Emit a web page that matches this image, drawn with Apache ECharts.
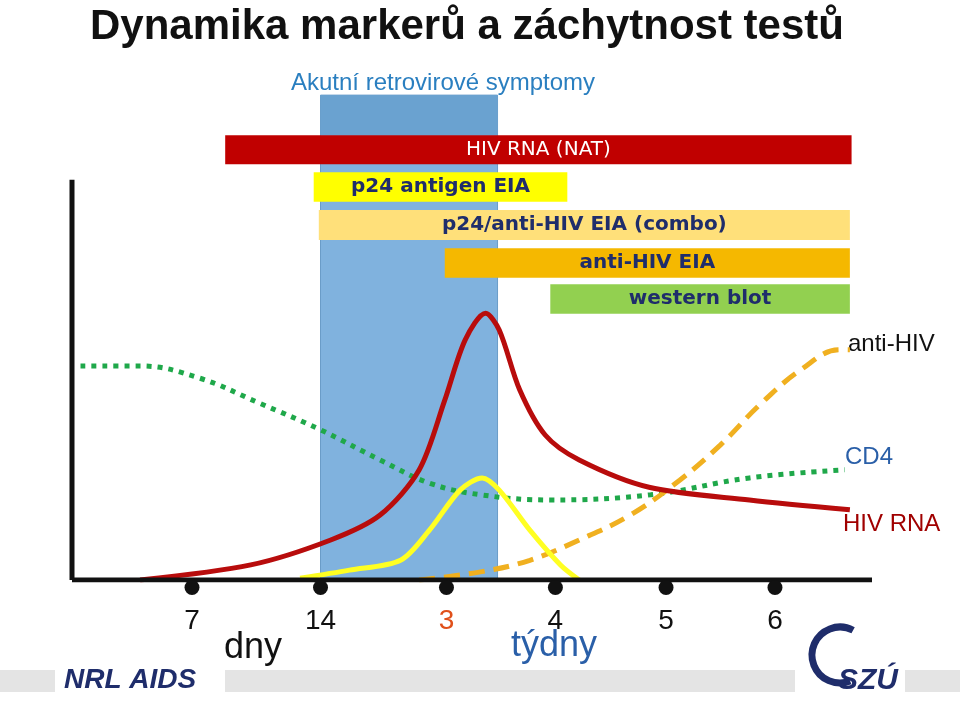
<!DOCTYPE html><html><head><meta charset="utf-8">
<script src="https://cdn.jsdelivr.net/npm/echarts@6/dist/echarts.min.js"></script>
<style>html,body{margin:0;background:#fff}#c{width:960px;height:714px}</style></head><body><div id="c"></div>
<script>
// x: days since infection, y: relative level (0..100)
const hivRna=[[4.0,0],[10.5,2.6],[15.2,6.9],[18.1,11.2],[20.4,19.0],[21.9,31.0],[23.1,41.4],[24.3,46.0],[25.1,43.1],[26.3,32.8],[27.8,25.0],[29.8,20.7],[33.9,16.0],[39.8,13.8],[45.7,12.1]];
const p24=[[13.4,0.3],[16.3,1.7],[19.3,3.4],[21.0,8.6],[22.8,15.5],[24.1,17.6],[25.1,15.5],[26.9,8.6],[28.7,2.6],[29.8,0]];
const cd4=[[0.5,36.9],[4.0,36.9],[7.5,34.8],[11.0,30.5],[14.6,25.9],[18.1,20.7],[21.0,16.7],[24.0,14.7],[28.1,13.8],[34.0,14.7],[39.8,17.6],[45.4,19.0]];
const antiHiv=[[20.4,0],[24.0,1.4],[26.9,3.4],[29.8,6.9],[32.8,11.2],[35.7,17.2],[38.1,23.3],[40.4,30.2],[42.8,36.2],[45.1,39.7],[45.7,39.7]];
const tickDays=[7.05,14.6,22.0,28.4,34.9,41.3];
const tickLabels=['7','14','3','4','5','6'];
const tickColors=['#111','#111','#e0501a','#111','#111','#111'];
// test windows: [name, start, end, yTop, yBottom]
const tests=[['HIV RNA (NAT)',9.0,45.8,76.7,71.7],['p24 antigen EIA',14.2,29.1,70.3,65.2],['p24/anti-HIV EIA (combo)',14.5,45.7,63.8,58.6],['anti-HIV EIA',21.9,45.7,57.2,52.1],['western blot',28.1,45.7,51.0,45.9]];
const testFill=['#c00000','#ffff00','#ffe07a','#f5b800','#92d050'];
const testText=['#fff','#1f2d6b','#1f2d6b','#1f2d6b','#1f2d6b'];
const acute=[14.6,25.0,83.6,0];

const chart=echarts.init(document.getElementById('c'));
chart.setOption({
 animation:false,
 grid:{left:72,right:88,top:0,bottom:134},
 xAxis:{type:'value',min:0,max:47,show:false},
 yAxis:{type:'value',min:0,max:100,show:false},
 graphic:[
  {type:'text',left:90,top:6,style:{text:'Dynamika markerů a záchytnost testů',font:'bold 42px Liberation Sans',fill:'#111'}},
  {type:'text',left:291,top:71,style:{text:'Akutní retrovirové symptomy',font:'24px Liberation Sans',fill:'#2a7fc0'}},
  {type:'text',left:848,top:332,style:{text:'anti-HIV',font:'24px Liberation Sans',fill:'#111'}},
  {type:'text',left:845,top:445,style:{text:'CD4',font:'24px Liberation Sans',fill:'#2a5fa8'}},
  {type:'text',left:843,top:512,style:{text:'HIV RNA',font:'24px Liberation Sans',fill:'#a00000'}},
  {type:'text',left:450,top:521,style:{text:'p24',font:'24px Liberation Sans',fill:'#2a5fa8'}},
  {type:'text',left:224,top:630,style:{text:'dny',font:'36px Liberation Sans',fill:'#111'}},
  {type:'text',left:511,top:628,style:{text:'týdny',font:'36px Liberation Sans',fill:'#2a5fa8'}},
  {type:'rect',shape:{x:0,y:670,width:55,height:22},style:{fill:'#e4e4e4'}},
  {type:'rect',shape:{x:225,y:670,width:570,height:22},style:{fill:'#e4e4e4'}},
  {type:'rect',shape:{x:905,y:670,width:55,height:22},style:{fill:'#e4e4e4'}},
  {type:'text',left:64,top:666,style:{text:'NRL AIDS',font:'italic bold 28px Liberation Sans',fill:'#1f2d6b'}},
  {type:'rect',shape:{x:795,y:600,width:110,height:110},style:{fill:'#fff'}},
  {type:'text',left:838,top:666,style:{text:'SZÚ',font:'italic bold 30px Liberation Sans',fill:'#1f2d6b'}},
  {type:'arc',shape:{cx:840,cy:655,r:28,startAngle:1.2,endAngle:5.2},style:{stroke:'#1f2d6b',lineWidth:7,fill:null}}
 ],
 series:[
  {type:'custom',z:1,data:[acute],renderItem:(p,api)=>{
    const a=api.coord([api.value(0),api.value(2)]),b=api.coord([api.value(1),api.value(3)]);
    const t=api.coord([0,76.7])[1];
    return {type:'group',children:[
     {type:'rect',shape:{x:a[0],y:a[1],width:b[0]-a[0],height:b[1]-a[1]},style:{fill:'#80b2de',stroke:'#6a9cc8',lineWidth:1}},
     {type:'rect',shape:{x:a[0],y:a[1],width:b[0]-a[0],height:t-a[1]},style:{fill:'#6aa2d0'}}]};
  }},
  {type:'custom',z:3,data:tests.map((t,i)=>[t[1],t[2],t[3],t[4],i]),renderItem:(p,api)=>{
    const i=api.value(4);
    const a=api.coord([api.value(0),api.value(2)]),b=api.coord([api.value(1),api.value(3)]);
    return {type:'group',children:[
     {type:'rect',shape:{x:a[0],y:a[1],width:b[0]-a[0],height:b[1]-a[1]},style:{fill:testFill[i]}},
     {type:'text',style:{x:(a[0]+b[0])/2,y:(a[1]+b[1])/2,text:tests[i][0],align:'center',verticalAlign:'middle',
      font:(i===0?'20px DejaVu Sans':'bold 20px DejaVu Sans'),fill:testText[i]}}]};
  }},
  {type:'line',z:4,data:cd4,smooth:0.4,symbol:'none',lineStyle:{color:'#1fa84a',width:5,type:[5,6]}},
  {type:'line',z:5,data:antiHiv,smooth:0.4,symbol:'none',lineStyle:{color:'#f0b020',width:5,type:[16,9]}},
  {type:'line',z:6,data:hivRna,smooth:0.3,symbol:'none',lineStyle:{color:'#b80c0c',width:5}},
  {type:'line',z:6,data:p24,smooth:0.3,symbol:'none',lineStyle:{color:'#ffff22',width:5}},
  {type:'line',z:7,data:[[0,0],[47,0]],symbol:'none',lineStyle:{color:'#111',width:5}},
  {type:'line',z:7,data:[[0,0],[0,69]],symbol:'none',lineStyle:{color:'#111',width:5}},
  {type:'scatter',z:8,clip:false,symbolSize:15,itemStyle:{color:'#111',opacity:1},
   data:tickDays.map((d,i)=>({value:[d,-1.3],label:{show:true,position:'bottom',distance:12,formatter:tickLabels[i],
     color:tickColors[i],opacity:1,fontSize:28,fontFamily:'Liberation Sans'}}))}
 ]
});
</script></body></html>
